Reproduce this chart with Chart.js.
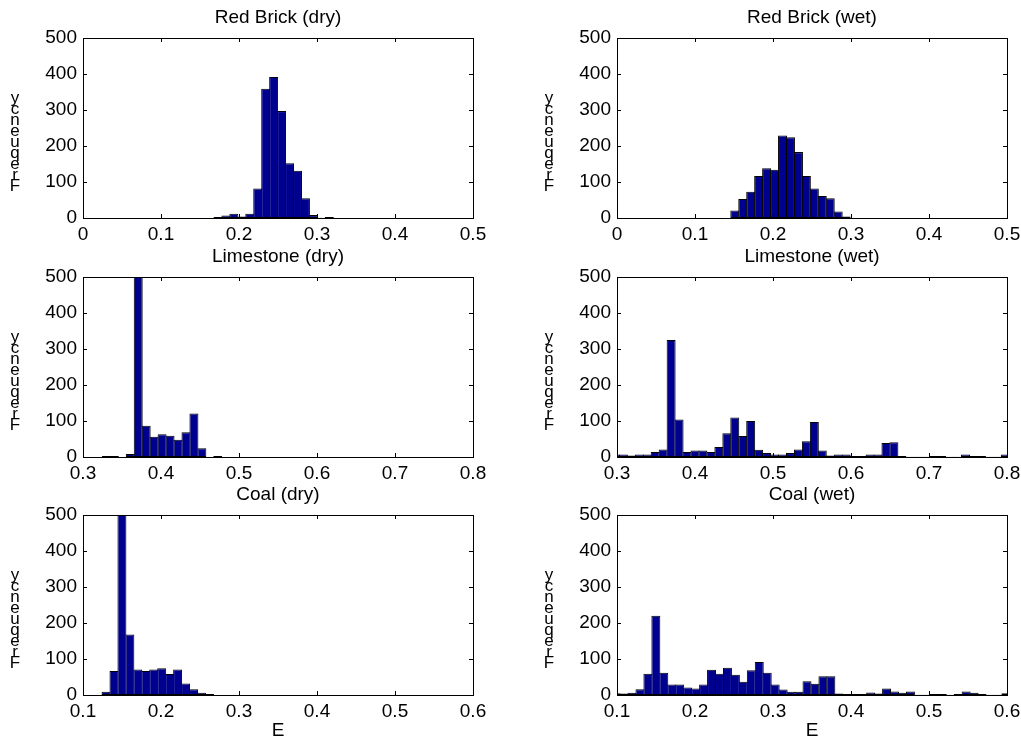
<!DOCTYPE html>
<html>
<head>
<meta charset="utf-8">
<script src="https://cdn.jsdelivr.net/npm/chart.js@4.4.1/dist/chart.umd.min.js"></script>
<style>
html,body{margin:0;padding:0;background:#fff;}
#wrap{position:relative;width:1021px;height:749px;overflow:hidden;background:#fff;}
#wrap canvas{position:absolute;}
</style>
</head>
<body>
<div id="wrap"></div>
<script>
// ---------- data ----------
const panelTitles = ['Red Brick (dry)', 'Red Brick (wet)', 'Limestone (dry)', 'Limestone (wet)', 'Coal (dry)', 'Coal (wet)'];
const yAxisTitle = 'Frequency';
const xAxisTitle = 'E';

const yTickValues = [0, 100, 200, 300, 400, 500];
const yTickLabels = ['0', '100', '200', '300', '400', '500'];

const xTicksRedBrick = [0, 0.1, 0.2, 0.3, 0.4, 0.5];
const xTickLabelsRedBrick = ['0', '0.1', '0.2', '0.3', '0.4', '0.5'];
const xTicksLimestone = [0.3, 0.4, 0.5, 0.6, 0.7, 0.8];
const xTickLabelsLimestone = ['0.3', '0.4', '0.5', '0.6', '0.7', '0.8'];
const xTicksCoal = [0.1, 0.2, 0.3, 0.4, 0.5, 0.6];
const xTickLabelsCoal = ['0.1', '0.2', '0.3', '0.4', '0.5', '0.6'];

// bin centres (E) and counts
const redBrickDryBins = [0.1730, 0.1832, 0.1934, 0.2036, 0.2138, 0.2240, 0.2342, 0.2444, 0.2546, 0.2648, 0.2750, 0.2852, 0.2954, 0.3056, 0.3158];
const redBrickDryCounts = [3, 7, 12, 4, 12, 82, 359, 392, 297, 152, 131, 55, 8, 1, 3];

const redBrickWetBins = [0.1510, 0.1612, 0.1714, 0.1816, 0.1918, 0.2020, 0.2122, 0.2224, 0.2326, 0.2428, 0.2530, 0.2632, 0.2734, 0.2836, 0.2938];
const redBrickWetCounts = [21, 53, 73, 117, 138, 134, 229, 224, 183, 117, 82, 61, 55, 18, 4];

const limestoneDryBins = [0.3300, 0.3402, 0.3504, 0.3606, 0.3708, 0.3810, 0.3912, 0.4014, 0.4116, 0.4218, 0.4320, 0.4422, 0.4524, 0.4626, 0.4728];
const limestoneDryCounts = [3, 3, 0, 8, 500, 87, 56, 63, 59, 48, 69, 121, 24, 0, 3];

const limestoneWetBins = [0.2980, 0.3082, 0.3184, 0.3286, 0.3388, 0.3490, 0.3592, 0.3694, 0.3796, 0.3898,
  0.4000, 0.4102, 0.4204, 0.4306, 0.4408, 0.4510, 0.4612, 0.4714, 0.4816, 0.4918,
  0.5020, 0.5122, 0.5224, 0.5326, 0.5428, 0.5530, 0.5632, 0.5734, 0.5836, 0.5938,
  0.6040, 0.6142, 0.6244, 0.6346, 0.6448, 0.6550, 0.6652, 0.6754, 0.6856, 0.6958,
  0.7060, 0.7162, 0.7264, 0.7366, 0.7468, 0.7570, 0.7672, 0.7774, 0.7876, 0.7978];
const limestoneWetCounts = [7, 7, 4, 7, 7, 14, 21, 325, 104, 14,
  18, 18, 14, 28, 66, 110, 58, 100, 20, 11,
  7, 7, 11, 21, 44, 97, 18, 4, 7, 7,
  3, 3, 7, 7, 39, 41, 3, 1, 1, 1,
  3, 3, 1, 1, 7, 3, 3, 1, 1, 7];

const coalDryBins = [0.1295, 0.1397, 0.1499, 0.1601, 0.1703, 0.1805, 0.1907, 0.2009, 0.2111, 0.2213, 0.2315, 0.2417, 0.2519, 0.2621];
const coalDryCounts = [9, 67, 500, 168, 71, 67, 71, 74, 58, 71, 32, 16, 6, 3];

const coalWetBins = [0.0988, 0.1090, 0.1192, 0.1294, 0.1396, 0.1498, 0.1600, 0.1702, 0.1804, 0.1906,
  0.2008, 0.2110, 0.2212, 0.2314, 0.2416, 0.2518, 0.2620, 0.2722, 0.2824, 0.2926,
  0.3028, 0.3130, 0.3232, 0.3334, 0.3436, 0.3538, 0.3640, 0.3742, 0.3844, 0.3946,
  0.4048, 0.4150, 0.4252, 0.4354, 0.4456, 0.4558, 0.4660, 0.4762, 0.4864, 0.4966,
  0.5068, 0.5170, 0.5272, 0.5374, 0.5476, 0.5578, 0.5680, 0.5782, 0.5884, 0.5986];
const coalWetCounts = [5, 4, 6, 16, 59, 220, 62, 29, 29, 21,
  18, 29, 70, 59, 76, 56, 37, 69, 92, 62,
  29, 15, 9, 9, 38, 31, 52, 52, 4, 3,
  3, 3, 7, 4, 18, 10, 6, 10, 1, 1,
  3, 3, 1, 3, 10, 6, 3, 1, 1, 5];

// ---------- layout / style ----------
const FONT = '"Liberation Sans", Arial, Helvetica, sans-serif';
Chart.defaults.font.family = FONT;
Chart.defaults.font.size = 19;
Chart.defaults.color = '#000';

const cols = [
  {left: 0, width: 500, axisW: 83, padR: 27},
  {left: 500, width: 521, axisW: 117, padR: 14}
];
const rowTops = [0, 239, 477];
const CANVAS_H = 268, PAD_TOP = 38, XAXIS_H = 50;

const panels = [
  {col: 0, row: 0, title: panelTitles[0], bins: redBrickDryBins, counts: redBrickDryCounts, xt: xTicksRedBrick, xl: xTickLabelsRedBrick},
  {col: 1, row: 0, title: panelTitles[1], bins: redBrickWetBins, counts: redBrickWetCounts, xt: xTicksRedBrick, xl: xTickLabelsRedBrick},
  {col: 0, row: 1, title: panelTitles[2], bins: limestoneDryBins, counts: limestoneDryCounts, xt: xTicksLimestone, xl: xTickLabelsLimestone},
  {col: 1, row: 1, title: panelTitles[3], bins: limestoneWetBins, counts: limestoneWetCounts, xt: xTicksLimestone, xl: xTickLabelsLimestone},
  {col: 0, row: 2, title: panelTitles[4], bins: coalDryBins, counts: coalDryCounts, xt: xTicksCoal, xl: xTickLabelsCoal, xTitle: xAxisTitle},
  {col: 1, row: 2, title: panelTitles[5], bins: coalWetBins, counts: coalWetCounts, xt: xTicksCoal, xl: xTickLabelsCoal, xTitle: xAxisTitle}
];

const framePlugin = {
  id: 'frame',
  afterDraw(chart, args, opts) {
    const ctx = chart.ctx, a = chart.chartArea;
    const xs = chart.scales.x, ys = chart.scales.y;
    const L = Math.round(a.left), R = Math.round(a.right), T = Math.round(a.top), B = Math.round(a.bottom);
    ctx.save();
    ctx.strokeStyle = '#000';
    ctx.lineWidth = 1;
    ctx.strokeRect(L + 0.5, T + 0.5, R - L, B - T);
    ctx.beginPath();
    xs.ticks.forEach(t => {
      const px = Math.round(xs.getPixelForValue(t.value)) + 0.5;
      ctx.moveTo(px, B); ctx.lineTo(px, B - 4);
      ctx.moveTo(px, T); ctx.lineTo(px, T + 4);
    });
    ys.ticks.forEach(t => {
      const py = Math.round(ys.getPixelForValue(t.value)) + 0.5;
      ctx.moveTo(L, py); ctx.lineTo(L + 4, py);
      ctx.moveTo(R, py); ctx.lineTo(R - 4, py);
    });
    ctx.stroke();
    ctx.fillStyle = '#000';
    ctx.textAlign = 'center';
    ctx.textBaseline = 'middle';
    ctx.font = '19px ' + FONT;
    const cx = (a.left + a.right) / 2;
    ctx.fillText(opts.title, cx, a.top - 20);
    if (opts.xTitle) ctx.fillText(opts.xTitle, cx, a.bottom + 36);
    ctx.font = '17px ' + FONT;
    opts.yTitle.split('').forEach((ch, i) => {
      ctx.fillText(ch, a.left - 68, a.top + 148 - i * 11);
    });
    ctx.restore();
  }
};

const wrap = document.getElementById('wrap');
panels.forEach(p => {
  const c = cols[p.col];
  const cv = document.createElement('canvas');
  cv.width = c.width; cv.height = CANVAS_H;
  cv.style.left = c.left + 'px';
  cv.style.top = rowTops[p.row] + 'px';
  cv.style.width = c.width + 'px';
  cv.style.height = CANVAS_H + 'px';
  wrap.appendChild(cv);
  new Chart(cv, {
    type: 'bar',
    data: {
      datasets: [{
        data: p.bins.map((b, i) => ({x: b, y: p.counts[i]})),
        backgroundColor: 'rgb(0,0,143)',
        borderColor: '#000',
        borderWidth: 1,
        borderSkipped: false,
        barPercentage: 1.126,
        categoryPercentage: 1,
        clip: 0
      }]
    },
    options: {
      responsive: false,
      animation: false,
      devicePixelRatio: 1,
      layout: {padding: {top: PAD_TOP, left: 0, right: c.padR, bottom: 0}},
      plugins: {
        legend: {display: false},
        tooltip: {enabled: false},
        frame: {title: p.title, xTitle: p.xTitle || '', yTitle: yAxisTitle}
      },
      scales: {
        x: {
          type: 'linear',
          min: p.xt[0], max: p.xt[p.xt.length - 1],
          offset: false,
          grid: {display: false, drawTicks: false},
          border: {display: false},
          ticks: {padding: 5, maxRotation: 0, autoSkip: false, callback: (v, i) => p.xl[i]},
          afterBuildTicks: s => { s.ticks = p.xt.map(v => ({value: v})); },
          afterFit: s => { s.height = XAXIS_H; s.paddingLeft = 0; s.paddingRight = 0; }
        },
        y: {
          min: 0, max: 500,
          grid: {display: false, drawTicks: false},
          border: {display: false},
          ticks: {padding: 6, autoSkip: false, callback: (v, i) => yTickLabels[i]},
          afterBuildTicks: s => { s.ticks = yTickValues.map(v => ({value: v})); },
          afterFit: s => { s.width = c.axisW; s.paddingTop = 0; s.paddingBottom = 0; }
        }
      }
    },
    plugins: [framePlugin]
  });
});
</script>
</body>
</html>
